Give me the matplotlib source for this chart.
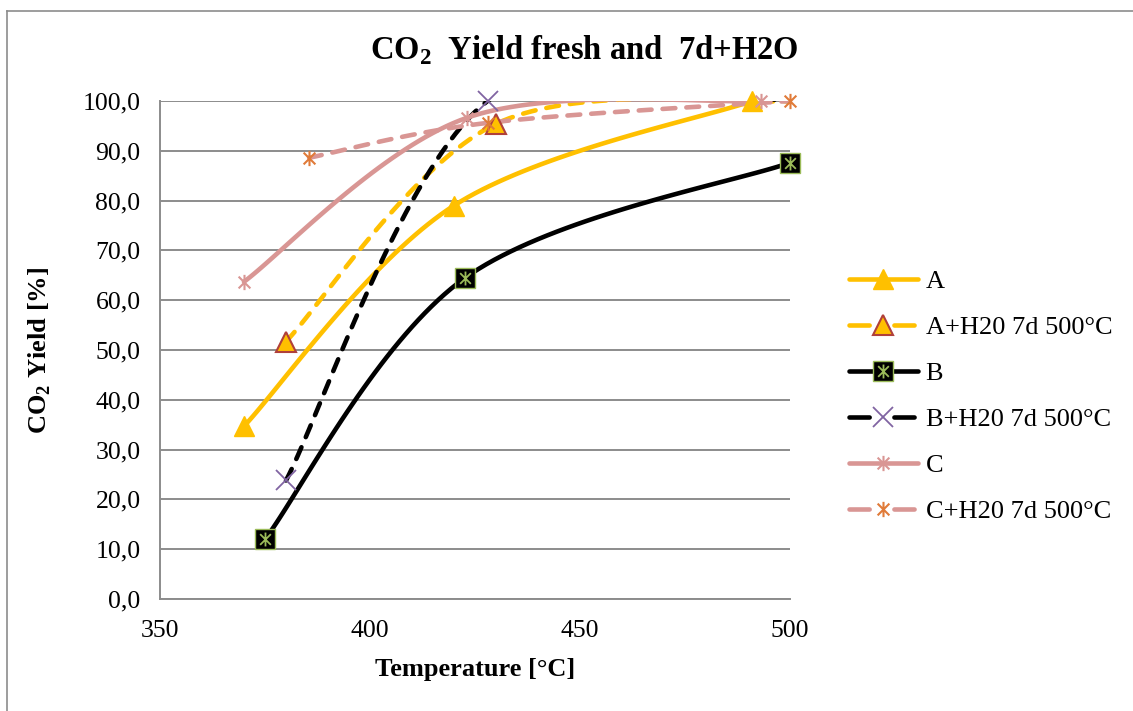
import matplotlib
matplotlib.use("Agg")
import matplotlib.pyplot as plt
import numpy as np
from matplotlib.lines import Line2D
from matplotlib.path import Path
from matplotlib.legend_handler import HandlerTuple

plt.rcParams['font.family'] = ['Liberation Serif', 'DejaVu Serif']
plt.rcParams['mathtext.fontset'] = 'custom'
plt.rcParams['mathtext.rm'] = 'Liberation Serif'
plt.rcParams['mathtext.bf'] = 'Liberation Serif:bold'

# Datos
a_x = [370, 420, 491]
a_y = [34.7, 79.0, 100.0]
ah_x = [380, 430, 500]
ah_y = [51.7, 95.4, 100.0]
b_x = [375, 422.5, 500]
b_y = [12.0, 64.4, 87.6]
bh_x = [380, 428, 500]
bh_y = [23.8, 100.0, 100.0]
c_x = [370, 423, 493]
c_y = [63.7, 96.6, 100.0]
ch_x = [385.5, 428, 500]
ch_y = [88.6, 95.6, 100.0]

etiquetas = ["A", "A+H20 7d 500°C", "B", "B+H20 7d 500°C", "C", "C+H20 7d 500°C"]

# escala aproximada en pixeles (para suavizar como Excel)
SX, SY = 4.2, 4.99


def suavizar(xs, ys, n=40):
    p = np.column_stack([np.array(xs) * SX, np.array(ys) * SY])
    m = len(p)
    out = []
    for i in range(m - 1):
        p0 = p[max(i - 1, 0)]
        p1 = p[i]
        p2 = p[i + 1]
        p3 = p[min(i + 2, m - 1)]
        c1 = p1 + (p2 - p0) / 6
        c2 = p2 - (p3 - p1) / 6
        t = np.linspace(0, 1, n)[:, None]
        seg = (1 - t) ** 3 * p1 + 3 * (1 - t) ** 2 * t * c1 + 3 * (1 - t) * t ** 2 * c2 + t ** 3 * p2
        out.append(seg if i == 0 else seg[1:])
    out = np.vstack(out)
    return out[:, 0] / SX, out[:, 1] / SY


# marcador tipo asterisco de Excel (x + linea vertical)
estrella = Path([(-1, -1), (1, 1), (-1, 1), (1, -1), (0, -1.3), (0, 1.3)],
                [Path.MOVETO, Path.LINETO, Path.MOVETO, Path.LINETO, Path.MOVETO, Path.LINETO])

amarillo = '#FFC000'
rosa = '#D99694'
lw = 3.3
dash = (2.8, 2.4)

fig = plt.figure(figsize=(11.33, 7.11), dpi=100)
ax = fig.add_axes([0.1412, 0.1575, 0.5561, 0.7005])

series = [
    (a_x, a_y, amarillo, '-', dict(marker='^', ms=14, mfc=amarillo, mec=amarillo), 3),
    (ah_x, ah_y, amarillo, '--', dict(marker='^', ms=14, mfc=amarillo, mec='#B0403A', mew=1.5), 2),
    (b_x, b_y, 'black', '-', dict(marker='s', ms=15, mfc='black', mec='#9BBB59', mew=1), 3),
    (bh_x, bh_y, 'black', '--', dict(marker='x', ms=14, mec='#8064A2', mew=1.3), 2),
    (c_x, c_y, rosa, '-', dict(marker=estrella, ms=11, mec=rosa, mew=1.5), 3),
    (ch_x, ch_y, rosa, '--', dict(marker=estrella, ms=11, mec='#E07B39', mew=1.5), 3),
]

handles = []
for xs, ys, col, ls, mk, nmk in series:
    sx, sy = suavizar(xs, ys)
    if ls == '--':
        ax.plot(sx, sy, color=col, lw=lw, ls=(0, dash), dash_capstyle='round', zorder=3)
    else:
        ax.plot(sx, sy, color=col, lw=lw, solid_capstyle='round', zorder=3)
    ax.plot(xs[:nmk], ys[:nmk], ls='none', zorder=4, clip_on=False, **mk)
    h = Line2D([], [], color=col, lw=lw, ls='-' if ls == '-' else (0, (4.4, 5.4)),
               solid_capstyle='round', dash_capstyle='round', **mk)
    if mk['marker'] == 's':
        ax.plot(xs, ys, ls='none', marker=estrella, ms=10, mec='#9BBB59', mew=1.3, zorder=5, clip_on=False)
        h = (h, Line2D([], [], ls='none', marker=estrella, ms=10, mec='#9BBB59', mew=1.3))
    handles.append(h)

ax.set_xlim(350, 500)
ax.set_ylim(0, 100)
ax.set_xticks([350, 400, 450, 500])
ax.set_yticks(np.arange(0, 101, 10))
ax.set_yticklabels([f"{v:.1f}".replace('.', ',') for v in np.arange(0, 101, 10)])
ax.tick_params(length=0, labelsize=18.5, colors='black')
ax.tick_params(axis='x', pad=15)
ax.tick_params(axis='y', pad=14)
ax.grid(axis='y', color='#8C8C8C', lw=1.4)
ax.set_axisbelow(True)
for s in ['top', 'right']:
    ax.spines[s].set_visible(False)
for s in ['left', 'bottom']:
    ax.spines[s].set_color('#8C8C8C')
    ax.spines[s].set_linewidth(1.4)

ax.set_xlabel("Temperature [°C]", fontsize=19, fontweight='bold')
ax.set_ylabel("CO$_\\mathbf{2}$ Yield [%]", fontsize=19, fontweight='bold')
ax.xaxis.set_label_coords(0.5, -0.118)
ax.yaxis.set_label_coords(-0.169, 0.5)
fig.text(0.516, 0.93, "CO$_\\mathbf{2}$  Yield fresh and  7d+H2O", fontsize=23.5,
         fontweight='bold', ha='center', va='center')

fig.legend(handles, etiquetas, loc='upper left', bbox_to_anchor=(0.7285, 0.654),
           frameon=False, fontsize=19, handlelength=2.6, handletextpad=0.3,
           labelspacing=0.85, handler_map={tuple: HandlerTuple(ndivide=1)})

# borde exterior
fig.add_artist(Line2D([0.0065, 0.0065], [0.0, 0.985], color='#8C8C8C', lw=1.2))
fig.add_artist(Line2D([0.0065, 1.0], [0.985, 0.985], color='#8C8C8C', lw=1.2))

fig.savefig("out.png", dpi=100)
